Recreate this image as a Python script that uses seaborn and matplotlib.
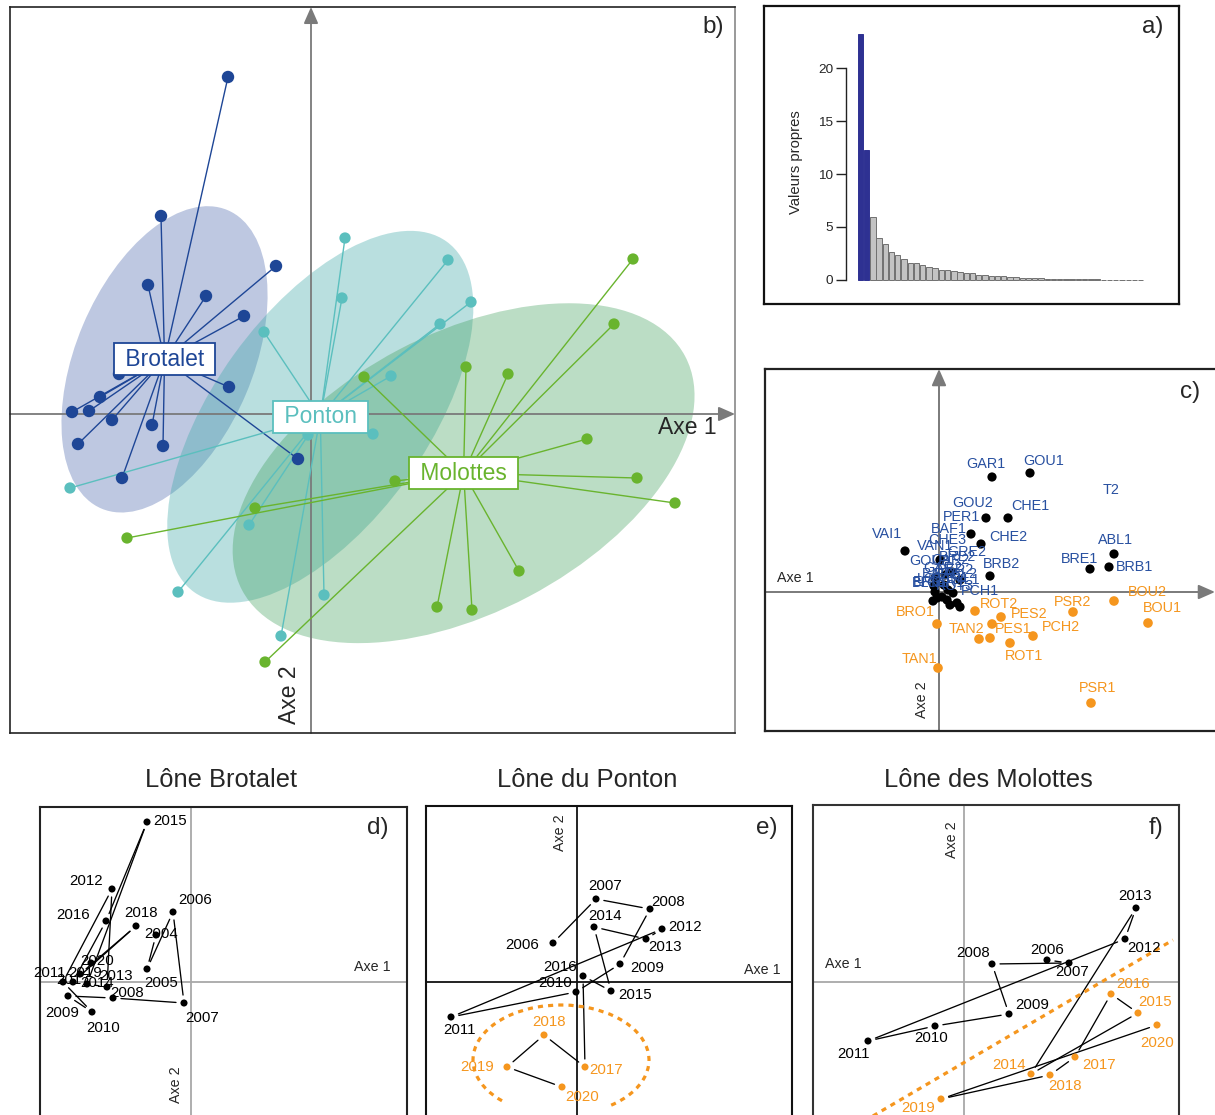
import numpy as np
import pandas as pd
import matplotlib
matplotlib.use("Agg")
import matplotlib.pyplot as plt
import seaborn as sns
from matplotlib.patches import Ellipse, Arc

sns.set_style("white")
plt.rcParams['font.family'] = ['Liberation Sans', 'DejaVu Sans']

# ======================= DATA =======================
# a) eigenvalues
eigenvalues = [23.2, 12.27, 5.9, 3.97, 3.34, 2.59, 2.3, 1.96, 1.61, 1.55, 1.36, 1.2, 1.1,
               0.95, 0.88, 0.82, 0.73, 0.66, 0.6, 0.47, 0.41, 0.38, 0.35, 0.32, 0.28, 0.25,
               0.19, 0.16, 0.14, 0.12, 0.1, 0.08, 0.07, 0.06, 0.05, 0.04, 0.035, 0.03, 0.025,
               0.02, 0.015, 0.01, 0.008, 0.005, 0.003, 0.001]
n_kept = 2
eig_ticks = [0, 5, 10, 15, 20]

# b) sites in the factorial plane
site_names = ["Brotalet", "Ponton", "Molottes"]
brotalet_x = [-0.83, -1.50, -1.63, -1.05, -0.35, -0.67, -0.82, -2.39, -2.22, -2.11, -1.99,
              -1.59, -1.48, -2.33, -1.89, -0.13, -1.92]
brotalet_y = [3.37, 1.98, 1.29, 1.18, 1.48, 0.98, 0.27, 0.02, 0.03, 0.17, -0.06, -0.11,
              -0.32, -0.30, -0.64, -0.45, 0.40]
ponton_x = [0.34, 0.31, -0.47, 1.37, 1.60, 1.29, 0.80, 0.62, -2.41, -0.62, -1.33, 0.13, -0.30, -0.03]
ponton_y = [1.76, 1.16, 0.82, 1.54, 1.12, 0.90, 0.38, -0.20, -0.74, -1.11, -1.78, -1.81, -2.22, -0.21]
molottes_x = [3.22, 3.03, 1.55, 1.97, 0.53, 2.76, 3.26, 3.64, 0.84, -0.56, -1.84, 2.08, 1.26, 1.61, -0.46]
molottes_y = [1.55, 0.90, 0.47, 0.40, 0.37, -0.25, -0.64, -0.89, -0.67, -0.94, -1.24, -1.57,
              -1.93, -1.96, -2.48]
ellipse_width = [3.24, 4.32, 5.01]
ellipse_height = [1.77, 2.13, 2.79]
ellipse_angle = [67.1, 54.2, 27.8]

# c) variables
black_x = [0.53, 0.91, 0.47, 0.69, 0.42, 0.32, -0.34, 0.51, 1.75, 1.51, 1.70, 0.01, 0.06, -0.04,
           0.13, 0.21, -0.04, -0.02, 0.03, 0.08, 0.18, 0.14, 0.09, 0.21, -0.05, 0.05, -0.06, 0.11]
black_y = [1.15, 1.19, 0.74, 0.74, 0.48, 0.58, 0.41, 0.16, 0.38, 0.23, 0.25, 0.32, 0.17, 0.14,
           0.20, 0.12, 0.00, -0.06, -0.05, -0.08, -0.11, -0.01, 0.02, -0.15, 0.06, 0.07, -0.09, -0.13]
blue_labels = ["GAR1", "GOU1", "T2", "GOU2", "PER1", "CHE1", "CHE2", "BAF1", "VAI1", "BRB2", "ABL1",
               "BRE1", "BRB1", "PCH1", "VAN1", "CHE3", "GRE2", "BRE2", "CAR2", "GOU3", "GAR2",
               "PER2", "BAF2", "ABL2", "LOT1", "SAN1", "SIL1", "CAR1", "BLN1", "ROT3", "EPI1"]
blue_lx = [0.47, 1.05, 1.72, 0.34, 0.23, 0.91, 0.69, 0.10, -0.52, 0.62, 1.77, 1.41, 1.96, 0.41,
           -0.04, 0.08, 0.28, 0.18, 0.11, -0.09, 0.04, 0.16, 0.01, 0.21, -0.04, 0.11, 0.26, 0.06,
           -0.09, 0.16, -0.11]
blue_ly = [1.28, 1.31, 1.02, 0.89, 0.75, 0.86, 0.55, 0.63, 0.58, 0.28, 0.52, 0.33, 0.25, 0.01,
           0.46, 0.52, 0.40, 0.35, 0.32, 0.31, 0.24, 0.22, 0.18, 0.18, 0.13, 0.14, 0.12, 0.09,
           0.09, 0.06, 0.10]
orange_x = [1.75, 2.09, 1.34, 0.36, 0.62, -0.02, 0.53, 0.40, 0.51, 0.94, 0.71, -0.01, 1.52]
orange_y = [-0.09, -0.31, -0.20, -0.19, -0.25, -0.32, -0.32, -0.47, -0.46, -0.44, -0.51, -0.76, -1.11]
orange_labels = ["BOU2", "BOU1", "PSR2", "ROT2", "PES2", "BRO1", "TAN2", "PES1", "PCH2", "ROT1",
                 "TAN1", "PSR1"]
orange_lx = [2.08, 2.23, 1.34, 0.60, 0.90, -0.24, 0.27, 0.74, 1.22, 0.85, -0.19, 1.59]
orange_ly = [0.00, -0.16, -0.10, -0.12, -0.22, -0.20, -0.37, -0.37, -0.35, -0.64, -0.67, -0.96]

# d) Lône Brotalet trajectory
d_years = list(range(2004, 2021))
d_x = [-0.35, -0.44, -0.18, -0.07, -0.78, -1.23, -0.99, -1.28, -0.79, -0.84, -1.04, -0.44, -0.85,
       -1.18, -0.55, -1.11, -1.00]
d_y = [0.47, 0.13, 0.70, -0.21, -0.16, -0.14, -0.30, 0.00, 0.93, -0.05, -0.02, 1.60, 0.61, 0.00,
       0.56, 0.08, 0.19]
d_lx = [-0.30, -0.30, 0.04, 0.11, -0.64, -1.29, -0.88, -1.41, -1.05, -0.75, -0.94, -0.21, -1.18,
        -1.18, -0.50, -1.06, -0.94]
d_ly = [0.48, -0.01, 0.82, -0.36, -0.11, -0.31, -0.46, 0.09, 1.01, 0.06, -0.01, 1.61, 0.67, 0.02,
        0.69, 0.09, 0.21]
d_first_recent = None

# e) Lône du Ponton trajectory
e_years = list(range(2006, 2021))
e_x = [-0.24, 0.19, 0.73, 0.43, -0.01, -1.26, 0.85, 0.69, 0.17, 0.34, 0.06, 0.08, -0.33, -0.70, -0.15]
e_y = [0.39, 0.83, 0.73, 0.18, -0.10, -0.35, 0.53, 0.43, 0.55, -0.09, 0.06, -0.85, -0.53, -0.85, -1.05]
e_lx = [-0.55, 0.28, 0.91, 0.70, -0.22, -1.18, 1.08, 0.88, 0.28, 0.58, -0.17, 0.29, -0.28, -1.00, 0.05]
e_ly = [0.37, 0.96, 0.80, 0.14, -0.01, -0.48, 0.55, 0.35, 0.66, -0.13, 0.15, -0.88, -0.40, -0.85, -1.15]
e_first_recent = 2017
e_arc = dict(center=(-0.16, -0.78), width=1.76, height=1.10, theta1=-42, theta2=218)

# f) Lône des Molottes trajectory
f_years = list(range(2006, 2021))
f_x = [0.83, 1.05, 0.28, 0.45, -0.29, -0.96, 1.61, 1.72, 0.67, 1.74, 1.47, 1.11, 0.86, -0.23, 1.93]
f_y = [0.22, 0.19, 0.18, -0.32, -0.44, -0.59, 0.43, 0.74, -0.92, -0.31, -0.12, -0.75, -0.93, -1.17, -0.43]
f_lx = [0.83, 1.08, 0.09, 0.68, -0.33, -1.10, 1.80, 1.71, 0.45, 1.91, 1.69, 1.35, 1.01, -0.46, 1.93]
f_ly = [0.32, 0.10, 0.29, -0.23, -0.56, -0.72, 0.34, 0.86, -0.83, -0.20, -0.02, -0.83, -1.04, -1.26, -0.61]
f_first_recent = 2014
f_split_x = [-1.15, 2.09]
f_split_y = [-1.48, 0.42]

# ======================= STYLE =======================
W, H = 1215, 1115
ORANGE = "#f5961e"
BLUE_TXT = "#2850a0"
site_colors = ["#1e4696", "#5bbfbe", "#69b42e"]
fill_colors = ["#4562a9", "#37a6a6", "#3d9e59"]
site_sizes = [80, 66, 66]
AXIS_GRAY = "#7a7a7a"

fig = plt.figure(figsize=(W / 100, H / 100), dpi=100)


def add_axes_px(l, t, r, b):
    return fig.add_axes([l / W, 1 - b / H, (r - l) / W, (b - t) / H])


def ftext(px, py, s, **kw):
    kw.setdefault("ha", "center")
    kw.setdefault("va", "center")
    fig.text(px / W, 1 - py / H, s, **kw)


def clean(ax, lw=1.2, color="#222222"):
    ax.set_xticks([])
    ax.set_yticks([])
    ax.set_xlabel("")
    ax.set_ylabel("")
    for s in ax.spines.values():
        s.set_visible(True)
        s.set_linewidth(lw)
        s.set_color(color)


def arrow_axes(ax, x0, x1, y0, y1, lw=1.3):
    props = dict(arrowstyle="-|>,head_length=0.5,head_width=0.22", color=AXIS_GRAY, lw=lw,
                 shrinkA=0, shrinkB=0, mutation_scale=20)
    ax.annotate("", xy=(x1, 0), xytext=(x0, 0), arrowprops=props, annotation_clip=False, zorder=1.5)
    ax.annotate("", xy=(0, y1), xytext=(0, y0), arrowprops=props, annotation_clip=False, zorder=1.5)


# ======================= PANEL b =======================
axb = add_axes_px(10, 7, 735, 733)
bx0, bx1, by0, by1 = -3.01, 4.24, -3.19, 4.07
site_xy = [(brotalet_x, brotalet_y), (ponton_x, ponton_y), (molottes_x, molottes_y)]
centroids = [(np.mean(x), np.mean(y)) for x, y in site_xy]

for i in range(3):
    cx, cy = centroids[i]
    axb.add_patch(Ellipse((cx, cy), ellipse_width[i], ellipse_height[i], angle=ellipse_angle[i],
                          facecolor=fill_colors[i], alpha=0.35, edgecolor="none", zorder=1))
arrow_axes(axb, bx0, bx1, by0, by1)
for i in range(3):
    cx, cy = centroids[i]
    xs, ys = site_xy[i]
    for x, y in zip(xs, ys):
        axb.plot([cx, x], [cy, y], color=site_colors[i], lw=1.0, zorder=2, solid_capstyle="round")
for i in range(3):
    xs, ys = site_xy[i]
    sns.scatterplot(x=xs, y=ys, color=site_colors[i], s=site_sizes[i], edgecolor="none",
                    ax=axb, zorder=3, legend=False)
for i in range(3):
    cx, cy = centroids[i]
    axb.text(cx, cy, " " + site_names[i] + " ", color=site_colors[i], fontsize=16.5,
             ha="center", va="center", zorder=5,
             bbox=dict(boxstyle="square,pad=0.2", fc="white", ec=site_colors[i], lw=1.3))
axb.set_xlim(bx0, bx1)
axb.set_ylim(by0, by1)
clean(axb, lw=1.2)
axb.spines["right"].set_color("#888888")
axb.text(3.76, -0.14, "Axe 1", fontsize=16.5, ha="center", va="center", zorder=6)
axb.text(-0.21, -2.81, "Axe 2", fontsize=16.5, ha="center", va="center", rotation=90, zorder=6)
axb.text(4.02, 3.87, "b)", fontsize=17.5, ha="center", va="center")

# ======================= PANEL a =======================
axa_f = add_axes_px(764, 6, 1179, 304)
clean(axa_f, lw=1.6, color="#111111")
axa = add_axes_px(846, 20, 1160, 292)
df_a = pd.DataFrame({"axis": ["F%d" % (i + 1) for i in range(len(eigenvalues))],
                     "eig": eigenvalues})
pal = {a: ("#2e3192" if i < n_kept else "#c3c3c3") for i, a in enumerate(df_a["axis"])}
sns.barplot(data=df_a, x="axis", y="eig", hue="axis", palette=pal, legend=False,
            width=0.86, saturation=1, ax=axa)
for i, cont in enumerate(axa.containers):
    for p in cont:
        p.set_edgecolor("#2e3192" if i < n_kept else "#707070")
        p.set_linewidth(0.7)
axa.set_xlim(-2.31, 48.1)
axa.set_ylim(-1.16, 24.57)
for k in ["top", "right", "bottom"]:
    axa.spines[k].set_visible(False)
axa.spines["left"].set_visible(True)
axa.spines["left"].set_bounds(0, 20)
axa.spines["left"].set_color("#222222")
axa.spines["left"].set_linewidth(1.0)
axa.set_xticks([])
axa.set_yticks(eig_ticks)
axa.tick_params(axis="y", left=True, length=7, width=1.0, color="#222222", labelsize=9.7, pad=2)
axa.set_xlabel("")
axa.set_ylabel("")
axa.patch.set_alpha(0)
ftext(796, 162, "Valeurs propres", fontsize=10.7, rotation=90)
ftext(1153, 27, "a)", fontsize=17.5)

# ======================= PANEL c =======================
axc = add_axes_px(765, 369, 1222, 731)
cx0, cx1, cy0, cy1 = -1.74, 2.83, -1.39, 2.23
arrow_axes(axc, cx0, 2.76, cy0, cy1, lw=1.4)
sns.scatterplot(x=black_x, y=black_y, color="black", s=44, edgecolor="none", ax=axc, zorder=3,
                legend=False)
sns.scatterplot(x=orange_x, y=orange_y, color=ORANGE, s=48, edgecolor="none", ax=axc, zorder=3,
                legend=False)
for t, x, y in zip(blue_labels, blue_lx, blue_ly):
    axc.text(x, y, t, color=BLUE_TXT, fontsize=10.4, ha="center", va="center", zorder=4)
for t, x, y in zip(orange_labels, orange_lx, orange_ly):
    axc.text(x, y, t, color=ORANGE, fontsize=10.4, ha="center", va="center", zorder=4)
axc.set_xlim(cx0, cx1)
axc.set_ylim(cy0, cy1)
clean(axc, lw=1.6, color="#222222")
axc.text(-1.44, 0.14, "Axe 1", fontsize=10.3, ha="center", va="center")
axc.text(-0.17, -1.08, "Axe 2", fontsize=10.3, ha="center", va="center", rotation=90)
axc.text(2.51, 2.00, "c)", fontsize=17.5, ha="center", va="center")


# ======================= PANELS d, e, f =======================
def traj_panel(rect, cross, years, xs, ys, lxs, lys, first_recent, cross_color, frame_color,
               title, title_x, tag_xy, axe1_xy, axe2_xy):
    l, t, r, b = rect
    ax = add_axes_px(l, t, r, b)
    cxp, cyp = cross
    xlim = ((l - cxp) / 100, (r - cxp) / 100)
    ylim = ((cyp - b) / 100, (cyp - t) / 100)
    ax.axhline(0, color=cross_color, lw=1.3, zorder=1)
    ax.axvline(0, color=cross_color, lw=1.3, zorder=1)
    g = 0.08
    for i in range(len(years) - 1):
        p0 = np.array([xs[i], ys[i]])
        p1 = np.array([xs[i + 1], ys[i + 1]])
        d = p1 - p0
        n = np.hypot(*d)
        if n <= 2 * g:
            continue
        u = d / n
        a, z = p0 + g * u, p1 - g * u
        ax.plot([a[0], z[0]], [a[1], z[1]], color="black", lw=0.95, zorder=2)
    recent = [first_recent is not None and y >= first_recent for y in years]
    cols = [ORANGE if rc else "black" for rc in recent]
    dfp = pd.DataFrame({"x": xs, "y": ys, "grp": ["recent" if rc else "old" for rc in recent]})
    sns.scatterplot(data=dfp, x="x", y="y", hue="grp", palette={"recent": ORANGE, "old": "black"},
                    s=26, edgecolor="none", ax=ax, zorder=3, legend=False)
    for yr, x, y, c in zip(years, lxs, lys, cols):
        ax.text(x, y, str(yr), color=c, fontsize=10.8, ha="center", va="center", zorder=4)
    ax.set_xlim(*xlim)
    ax.set_ylim(*ylim)
    clean(ax, lw=1.5, color=frame_color)
    ftext(title_x, 780, title, fontsize=18.4)
    ftext(tag_xy[0], tag_xy[1], tag_xy[2], fontsize=17.5)
    ftext(axe1_xy[0], axe1_xy[1], "Axe 1", fontsize=10.3)
    ftext(axe2_xy[0], axe2_xy[1], "Axe 2", fontsize=10.3, rotation=90)
    return ax


axd = traj_panel((40, 807, 407, 1130), (191, 982), d_years, d_x, d_y, d_lx, d_ly, d_first_recent,
                 "#a8a8a8", "#222222", "Lône Brotalet", 221, (378, 828, "d)"), (372, 967),
                 (176, 1085))
axe = traj_panel((426, 806, 792, 1130), (577, 982), e_years, e_x, e_y, e_lx, e_ly, e_first_recent,
                 "#111111", "#111111", "Lône du Ponton", 587, (767, 828, "e)"), (762, 970),
                 (560, 833))
axe.add_patch(Arc(e_arc["center"], e_arc["width"], e_arc["height"], theta1=e_arc["theta1"],
                  theta2=e_arc["theta2"], color=ORANGE, lw=2.3, linestyle=(0, (1.6, 1.6)), zorder=2))
axf = traj_panel((813, 805, 1179, 1130), (964, 982), f_years, f_x, f_y, f_lx, f_ly, f_first_recent,
                 "#a8a8a8", "#333333", "Lône des Molottes", 988, (1156, 828, "f)"), (843, 964),
                 (952, 840))
axf.plot(f_split_x, f_split_y, color=ORANGE, lw=2.3, linestyle=(0, (1.6, 1.6)), zorder=2)

fig.savefig("out.png", dpi=100)
